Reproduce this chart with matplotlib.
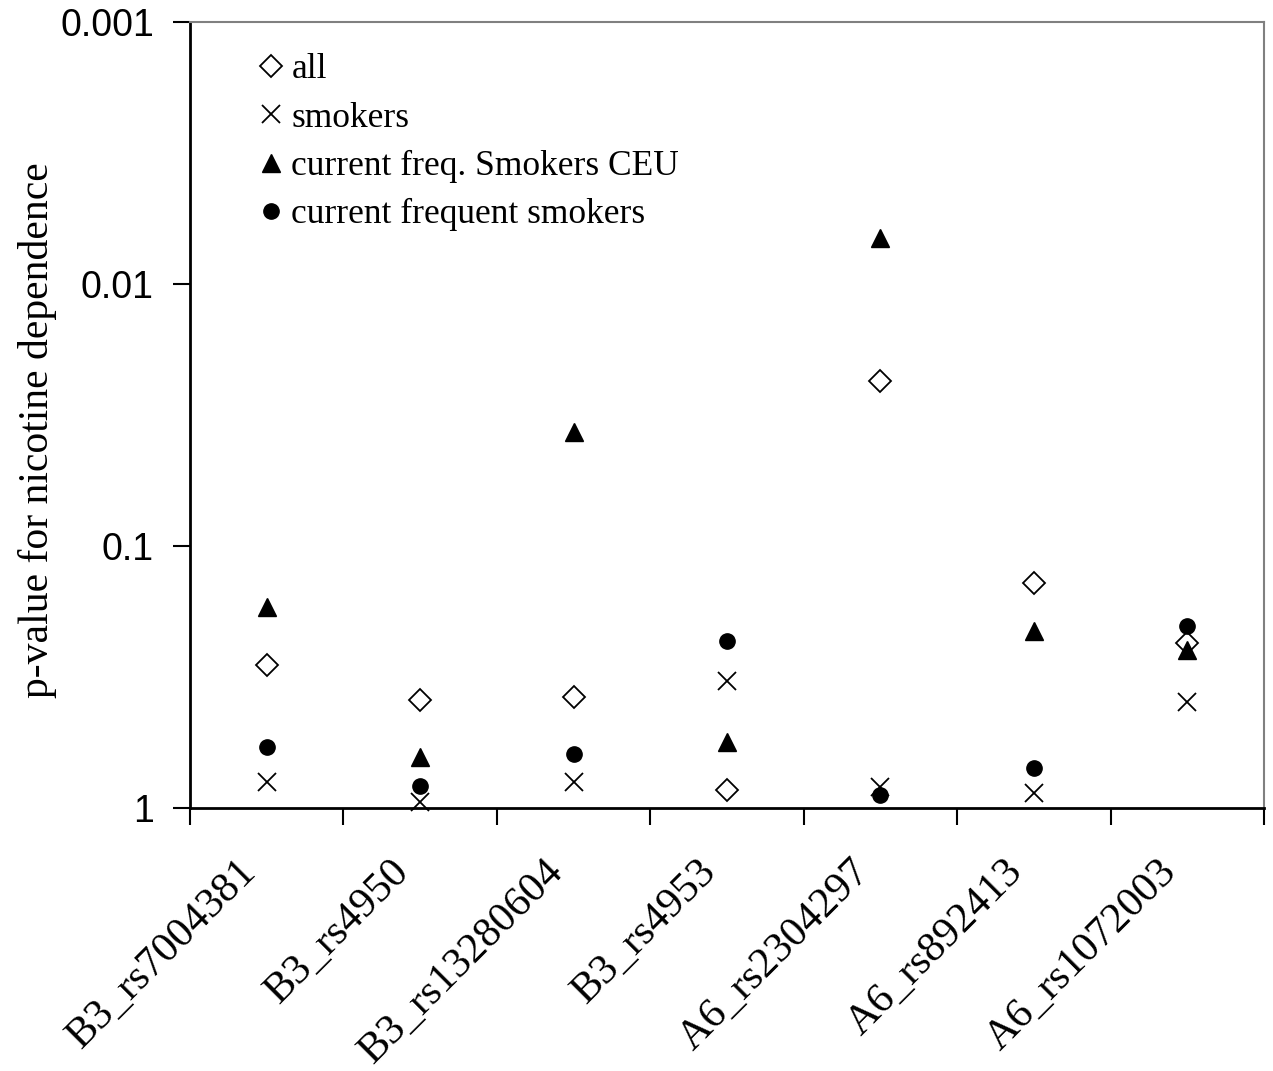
import matplotlib
matplotlib.use('Agg')
import matplotlib.pyplot as plt
from matplotlib.transforms import ScaledTranslation
import numpy as np

snps = ['B3_rs7004381', 'B3_rs4950', 'B3_rs13280604', 'B3_rs4953',
        'A6_rs2304297', 'A6_rs892413', 'A6_rs1072003']
p_all = [0.284, 0.387, 0.377, 0.854, 0.0234, 0.138, 0.235]
p_smokers = [0.796, 0.948, 0.796, 0.327, 0.832, 0.877, 0.394]
p_ceu = [0.171, 0.638, 0.0367, 0.560, 0.00667, 0.211, 0.249]
p_freq = [0.585, 0.824, 0.622, 0.230, 0.892, 0.704, 0.202]
series_labels = ['all', 'smokers', 'current freq. Smokers CEU', 'current frequent smokers']
yticks = [1, 0.1, 0.01, 0.001]
ytick_labels = ['1', '0.1', '0.01', '0.001']
ylabel = 'p-value for nicotine dependence'

plt.rcParams['font.family'] = ['Liberation Serif', 'DejaVu Serif']

fig = plt.figure(figsize=(12.73, 10.71), dpi=100)
ax = fig.add_axes([190/1273, 1-808/1071, (1264-190)/1273, (808-22)/1071])

x = np.arange(len(snps))
h1, = ax.plot(x, p_all, linestyle='none', marker='D', markersize=11,
              markerfacecolor='white', markeredgecolor='black', markeredgewidth=1.3,
              clip_on=False, zorder=5, label=series_labels[0])
h2, = ax.plot(x, p_smokers, linestyle='none', marker='x', markersize=13,
              color='black', markeredgewidth=1.3, clip_on=False, zorder=5,
              label=series_labels[1])
h3, = ax.plot(x, p_ceu, linestyle='none', marker='^', markersize=13,
              color='black', clip_on=False, zorder=5, label=series_labels[2])
h4, = ax.plot(x, p_freq, linestyle='none', marker='o', markersize=11,
              color='black', clip_on=False, zorder=5, label=series_labels[3])

ax.set_yscale('log')
ax.set_ylim(1, 0.001)
ax.set_yticks(yticks)
ax.set_yticklabels(ytick_labels, fontsize=27, family=['Liberation Sans', 'DejaVu Sans'])
ax.yaxis.set_minor_locator(matplotlib.ticker.NullLocator())
ax.tick_params(axis='y', which='major', length=12, width=1.5, direction='out', pad=14)

ax.set_xlim(-0.5, len(snps) - 0.5)
ax.set_xticks(np.arange(-0.5, len(snps), 1.0))
ax.set_xticklabels([])
ax.tick_params(axis='x', which='major', length=12, width=1.5, direction='out')
ax.set_xticks(x, minor=True)
ax.set_xticklabels(snps, minor=True, rotation=45, ha='right', va='top',
                   rotation_mode='anchor', fontsize=30.5)
ax.tick_params(axis='x', which='minor', length=0, pad=32)
offset = ScaledTranslation(-0.30, 0.0, fig.dpi_scale_trans)
for lab in ax.get_xticklabels(minor=True):
    lab.set_transform(lab.get_transform() + offset)

ax.set_ylabel(ylabel, fontsize=30)
ax.yaxis.set_label_coords(-0.124, 0.481)

for s in ['left', 'bottom']:
    ax.spines[s].set_color('black')
    ax.spines[s].set_linewidth(2)
for s in ['top', 'right']:
    ax.spines[s].set_color('#808080')
    ax.spines[s].set_linewidth(1.5)

ax.legend(handles=[h1, h2, h3, h4], loc='upper left', bbox_to_anchor=(0.063, 0.96),
          frameon=False, fontsize=25.5, handlelength=0.75, handletextpad=0.2,
          labelspacing=0.43, borderpad=0, borderaxespad=0, numpoints=1)

fig.savefig('out.png', dpi=100, facecolor='white')
